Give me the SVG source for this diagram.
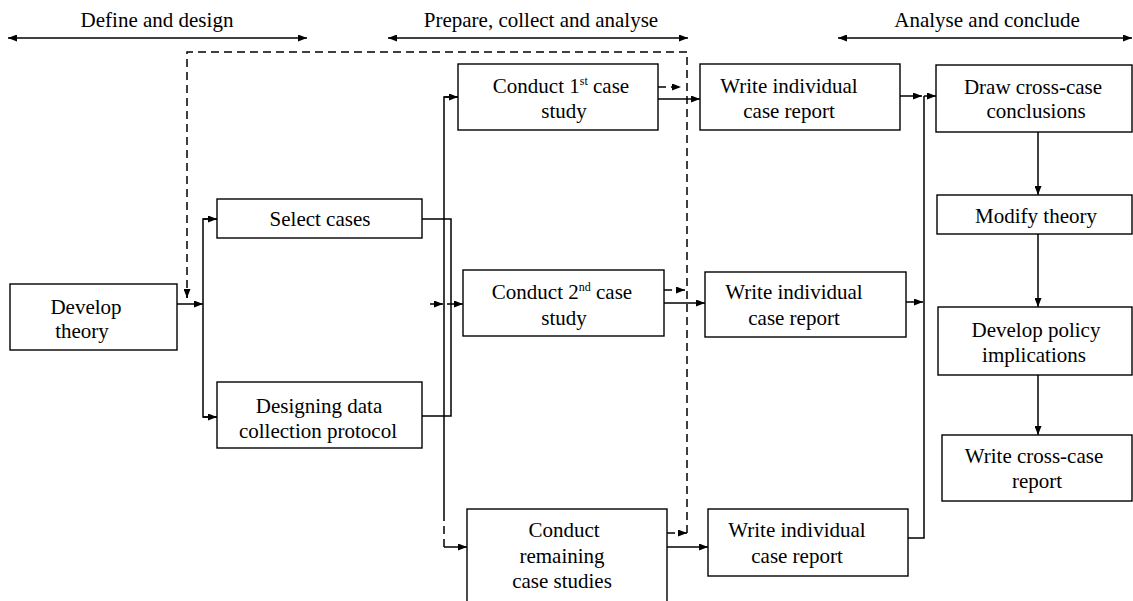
<svg xmlns="http://www.w3.org/2000/svg" width="1133" height="601" viewBox="0 0 1133 601" font-family="Liberation Serif, Times New Roman, DejaVu Serif, serif">
<style>
.box{fill:#fff;stroke:#000;stroke-width:1.4}
.t{font-size:21px;fill:#000;text-anchor:middle}
.sup{font-size:12px}
.ln{fill:none;stroke:#000;stroke-width:1.5}
.ds{fill:none;stroke:#000;stroke-width:1.5;stroke-dasharray:8 5}
.ar{marker-end:url(#ah)}
.dbl{marker-end:url(#ah);marker-start:url(#ah)}
</style>
<defs>
<marker id="ah" viewBox="0 0 9 7" refX="9" refY="3.5" markerWidth="9" markerHeight="7" markerUnits="userSpaceOnUse" orient="auto-start-reverse">
<path d="M0,0 L9,3.5 L0,7 z" fill="#000"/>
</marker>
</defs>

<g id="headers">
<text class="t" x="157" y="27" font-family="Liberation Serif">Define and design</text>
<line class="ln dbl" x1="8" y1="38" x2="307" y2="38"/>
<text class="t" x="541" y="27" font-family="Times New Roman, serif">Prepare, collect and analyse</text>
<line class="ln dbl" x1="388" y1="38" x2="688" y2="38"/>
<text class="t" x="987" y="27">Analyse and conclude</text>
<line class="ln dbl" x1="838" y1="38" x2="1132" y2="38"/>
</g>

<g id="connectors">
<polyline class="ds" points="687,533 687,52 187,52 187,298"/>
<path class="ds" d="M187,290 L187,298" marker-end="url(#ah)"/>
<line class="ln ar" x1="177" y1="304" x2="203" y2="304"/>
<polyline class="ln" points="217,219 203,219 203,417 217,417"/>
<line class="ln ar" x1="203" y1="219" x2="217" y2="219"/>
<line class="ln ar" x1="203" y1="417" x2="217" y2="417"/>
<polyline class="ln" points="422,219 451,219 451,416 422,416"/>
<polyline class="ln" points="458,97 444,97 444,513"/>
<line class="ln ar" x1="444" y1="97" x2="458" y2="97"/>
<line class="ds" x1="444" y1="513" x2="444" y2="547"/>
<line class="ln ar" x1="444" y1="547" x2="467" y2="547"/>
<line class="ln ar" x1="430" y1="304" x2="443" y2="304"/>
<line class="ds ar" x1="447" y1="304" x2="463" y2="304" stroke-dasharray="6 4"/>
<line class="ds ar" x1="658" y1="87" x2="681" y2="87" stroke-dasharray="7 5"/>
<line class="ds ar" x1="664" y1="290" x2="685" y2="290" stroke-dasharray="7 5"/>
<line class="ds ar" x1="667" y1="533" x2="687" y2="533" stroke-dasharray="7 5"/>
<line class="ln ar" x1="658" y1="99" x2="700" y2="99"/>
<line class="ln ar" x1="664" y1="303" x2="705" y2="303"/>
<line class="ln ar" x1="667" y1="547" x2="708" y2="547"/>
<line class="ln ar" x1="900" y1="96" x2="922" y2="96"/>
<polyline class="ln" points="908,538 924,538 924,96"/>
<line class="ln ar" x1="924" y1="96" x2="936" y2="96"/>
<line class="ln ar" x1="906" y1="302" x2="923" y2="302"/>
<line class="ln ar" x1="1038" y1="132" x2="1038" y2="195"/>
<line class="ln ar" x1="1038" y1="234" x2="1038" y2="307"/>
<line class="ln ar" x1="1038" y1="375" x2="1038" y2="435"/>
</g>

<g id="develop-theory">
<rect class="box" x="10" y="284" width="167" height="66"/>
<text class="t" x="86" y="314">Develop</text>
<text class="t" x="82" y="338">theory</text>
</g>

<g id="select-cases">
<rect class="box" x="217" y="199" width="205" height="39"/>
<text class="t" x="320" y="226">Select cases</text>
</g>

<g id="designing-protocol">
<rect class="box" x="217" y="382" width="205" height="66"/>
<text class="t" x="319" y="413">Designing data</text>
<text class="t" x="318" y="438">collection protocol</text>
</g>

<g id="conduct-1">
<rect class="box" x="458" y="64" width="200" height="66"/>
<text class="t" x="561" y="93">Conduct 1<tspan class="sup" dy="-8">st</tspan><tspan dy="8"> case</tspan></text>
<text class="t" x="564" y="118">study</text>
</g>

<g id="conduct-2">
<rect class="box" x="463" y="270" width="201" height="66"/>
<text class="t" x="562" y="299">Conduct 2<tspan class="sup" dy="-8">nd</tspan><tspan dy="8"> case</tspan></text>
<text class="t" x="564" y="325">study</text>
</g>

<g id="conduct-remaining">
<rect class="box" x="467" y="509" width="200" height="100"/>
<text class="t" x="564" y="537">Conduct</text>
<text class="t" x="562" y="563">remaining</text>
<text class="t" x="562" y="588">case studies</text>
</g>

<g id="write-1">
<rect class="box" x="700" y="64" width="200" height="66"/>
<text class="t" x="789" y="93">Write individual</text>
<text class="t" x="789" y="118">case report</text>
</g>

<g id="write-2">
<rect class="box" x="705" y="272" width="201" height="65"/>
<text class="t" x="794" y="299">Write individual</text>
<text class="t" x="794" y="325">case report</text>
</g>

<g id="write-3">
<rect class="box" x="708" y="509" width="200" height="67"/>
<text class="t" x="797" y="537">Write individual</text>
<text class="t" x="797" y="563">case report</text>
</g>

<g id="draw-conclusions">
<rect class="box" x="936" y="65" width="196" height="67"/>
<text class="t" x="1033" y="94">Draw cross-case</text>
<text class="t" x="1036" y="118">conclusions</text>
</g>

<g id="modify-theory">
<rect class="box" x="937" y="195" width="195" height="39"/>
<text class="t" x="1036" y="223">Modify theory</text>
</g>

<g id="policy-implications">
<rect class="box" x="938" y="307" width="194" height="68"/>
<text class="t" x="1036" y="337">Develop policy</text>
<text class="t" x="1034" y="362">implications</text>
</g>

<g id="cross-case-report">
<rect class="box" x="942" y="435" width="190" height="66"/>
<text class="t" x="1034" y="463">Write cross-case</text>
<text class="t" x="1037" y="488">report</text>
</g>
</svg>
